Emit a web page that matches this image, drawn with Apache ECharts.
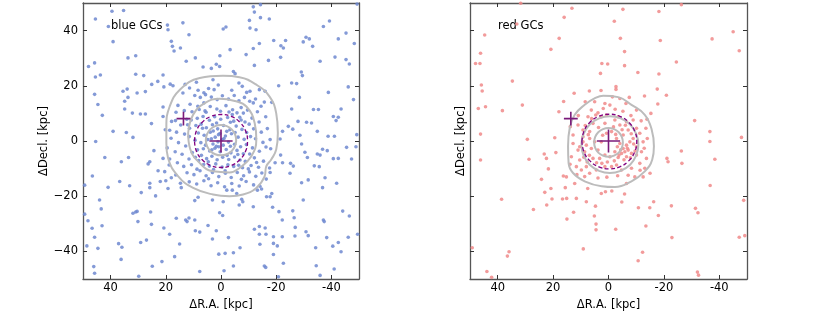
<!DOCTYPE html>
<html><head><meta charset="utf-8">
<script src="https://cdn.jsdelivr.net/npm/echarts/dist/echarts.min.js"></script>
<style>html,body{margin:0;padding:0;background:#fff}#c{width:830px;height:316px}</style>
</head><body><div id="c"></div>
<script>
const tickValues = [-40, -20, 0, 20, 40];
const panelLabels = ['blue GCs', 'red GCs'];
const xAxisName = 'ΔR.A. [kpc]';
const yAxisName = 'ΔDecl. [kpc]';

const blueOuter = [[39.5,47],[35.3,47.3],[45.5,44.2],[40.8,41.5],[39.1,36],[48,27],[45.8,28.3],[33.7,30.1],[30.9,30.9],[45.5,23.2],[43.7,23.9],[30.9,24.2],[28,23.7],[35.5,18],[34,18.8],[45.8,16.9],[27.4,17.9],[30.4,17.4],[25.1,20.5],[22.9,21.6],[21,23.9],[20.7,19.6],[19.4,42],[19.2,40.3],[18,36.1],[17.6,34.3],[17,32.6],[14.7,33.7],[13.8,42.8],[11.6,38.5],[12.6,28.9],[9.3,30.1],[6.5,26.8],[3.5,26.3],[1.7,27.8],[0.5,27],[44.6,13.2],[43,9.3],[34.9,14.4],[33.7,15.8],[34.9,11.6],[32.1,10.1],[29.2,9.8],[27.4,9.8],[25.2,6.3],[39.1,3.5],[34.3,3.1],[31.9,1.3],[21,12.3],[21,8.9],[20.2,4.1],[18.1,1],[45.4,-0.2],
[-11.7,48.6],[-14.3,49.4],[-12.1,46.7],[-10.3,43.7],[-14.3,44.7],[-17.5,44.2],[-10.5,40.9],[-12.7,40.3],[-1.8,41.3],[-0.8,40.6],[-39.3,43.5],[-37.1,41.5],[-45.3,39.1],[-42.5,37],[-48.3,35.3],[-49.3,49.6],[-30.8,37.6],[-29.8,35.9],[-32,37],[-33.2,34.3],[-19.1,36.4],[-23.4,36.4],[-21.7,34.5],[-22.6,33.7],[-13.9,35.3],[-11.7,33.5],[-3.3,33.1],[0.4,30.9],[-9.1,31.3],[-21.6,30.3],[-17.2,29.2],[-35.9,28.9],[-41.3,30.4],[-45.3,29.5],[-46.5,27.9],[-12.1,27.4],[-4.5,25.2],[-5.1,24.4],[-29.1,25],[-29.5,23.7],[-25.6,21],[-27.4,20.8],[-20.9,20],[-38.9,17.6],[-46.1,19.6],[-48,15],[-28.4,15.8],[-6.5,21],[-7.7,19.8],[-3.9,18.4],[-9.3,17.6],[-10.5,18],[-13.9,18.6],[-16,18],[-18.4,14],[-25.6,11.6],[-33.5,11.4],[-35.3,11.4],[-40.7,8.9],[-42.5,8.6],[-41.7,7.4],[-43.5,11.6],[-27.9,7.1],[-31,6.8],[-32.8,6.5],[-34.9,3.5],[-26,4.3],[-22.3,3.5],[-24.4,5.3],[-49.2,2.3],[-41.1,1.7],[-38.8,1.7],[-28.6,2.1],[-17.8,0.5],[-21.4,0.7],
[42.1,-6],[36.1,-7.5],[33.5,-6],[24.3,-3.5],[26.4,-8.3],[25.8,-7.5],[22.8,-10.8],[46.6,-12.7],[40.9,-16.8],[36.7,-14.7],[33.1,-16.2],[28.9,-18.7],[25.8,-15.3],[25.8,-16.9],[23.7,-19.9],[22,-14.7],[20,-14.4],[20.4,-11.1],[18,-13.3],[19.2,-17.2],[49.4,-16],[44,-21.4],[43.4,-24.6],[49.4,-26.5],[48.2,-28.9],[46.7,-31.6],[43.1,-30.7],[45.8,-34.9],[48.6,-38],[44.6,-38.9],[31.9,-26.2],[30.9,-25.7],[30.4,-25.5],[30.1,-29.2],[25.5,-25.7],[25.2,-30.2],[20.7,-31.5],[18.6,-33.8],[16.2,-28],[12.8,-28.6],[11.6,-27.9],[12.3,-29.2],[9.5,-28.6],[9.3,-32.5],[7.7,-33],[4.7,-30.6],[1.7,-32.5],[8.3,-20.4],[9.5,-21.6],[3.1,-21.4],[0.5,-26],[3.1,-35.5],[29.1,-36.8],[27,-35.9],[37.1,-37.2],[35.9,-38.5],[36.2,-42.9],[24.9,-45.4],[21.4,-43.7],[16.8,-41.9],[15,-37.3],[46.1,-45.5],[45.8,-47.9],[29.8,-49],[7.7,-47.3],[0.8,-41],
[-29.2,-1.1],[-36.8,-3],[-38.5,-3.5],[-34.9,-4.7],[-35.9,-5.1],[-45.5,-2.3],[-48.9,-2.1],[-30.4,-4.1],[-31.3,-6],[-40.7,-6.4],[-42.5,-6.3],[-47.3,-6.5],[-21.6,-5.1],[-19.6,-7.9],[-22.3,-7.9],[-25.2,-8.1],[-26.2,-9.1],[-33.8,-9],[-35.6,-9.3],[-31.6,-14.1],[-29.2,-15.1],[-25,-11.7],[-36.8,-16.9],[-37.7,-13.3],[-41.9,-15.3],[-29.8,-21.4],[-18.7,-24],[-21,-25.6],[-26,-25.3],[-26.5,-27.8],[-22.2,-28.6],[-0.6,-27],[-12.1,-32],[-13.9,-31],[-16,-31.5],[-13.9,-33.8],[-16.3,-33.8],[-19,-34.7],[-22.2,-34.7],[-26.9,-31.3],[-26.8,-34.4],[-30.8,-32.9],[-31.6,-34.3],[-37.1,-28.6],[-37.4,-29.2],[-38.3,-35],[-44.1,-25.4],[-46.5,-27.2],[-46.1,-34.9],[-49.5,-33.8],[-34.3,-38.7],[-40.5,-38.1],[-42.5,-36.8],[-43.5,-40.1],[-2.7,-35],[-6.9,-38.7],[-14.1,-37.4],[-19,-37.1],[-20.4,-38],[-19,-41.1],[-4.5,-40.5],[-1.5,-40.7],[-22.6,-44.3],[-15.7,-45.3],[-16.2,-45.8],[-4.5,-45.3],[-1.1,-47],[-34.5,-45.2],[-41,-46.4],[-35.9,-48.7],[-20.8,-49.2]];

const blueInner = [[9.5,16.5],[7.5,15.8],[5.6,16.8],[3.5,15.9],[1.4,15],[-0.5,16.4],[-2.7,15.2],[-4.8,16.5],[-6.5,14.6],[-8.5,15.8],[-10.4,14.4],[-12.5,15.2],[-14.5,12.6],[-15.7,14.1],[-11.7,13.8],[11.2,13.3],[8.4,12.6],[6.2,13.8],[3.9,12.5],[1.5,11.6],[-1.8,12.8],[-4.2,11.3],[-7.3,12.1],[-9.6,11.2],[-13.2,10.6],[13.3,11],[10.5,10.6],[5.4,10.4],[0.2,10.8],[-5.8,10.2],[15.6,12.9],[16.3,10.4],
[16.5,7.4],[14.6,5.8],[12.4,7.9],[16.1,3.2],[13.2,2.5],[11.4,4.6],[15.4,-0.6],[12.8,-1.8],[16.6,-3.9],[14.1,-4.8],[11.6,-6.5],[15.8,-7.9],[13.5,-9.2],[10.7,-8.6],
[-11.2,8.3],[-13.8,6.9],[-16.2,8.8],[-11.8,4.4],[-14.6,3.2],[-16.8,4.5],[-12.5,0.8],[-15.2,-0.5],[-11.4,-2.5],[-13.9,-3.7],[-16.3,-2.2],[-12.1,-6.1],[-15.4,-7.3],[-10.9,-8.9],[-13.6,-9.5],
[8.6,8.2],[6.5,8.9],[4.2,7.5],[2.3,8.8],[0.1,7.9],[-2.4,8.5],[-4.6,7.2],[-6.8,8.6],[-8.7,6.9],[9.1,5.6],[7.2,6.1],[5.3,4.8],[3.1,5.9],[1.2,4.4],[-0.9,5.6],[-3.2,4.1],[-5.5,5.4],[-7.6,4.2],[-9.3,3.1],[8.2,2.9],[6.1,2.1],[3.9,3.2],[2.1,1.4],[0.4,2.7],[-1.6,1.8],[-3.8,2.6],[-6.2,1.4],[-8.4,0.6],[9.4,0.3],[7.3,-0.6],[4.8,0.5],[2.9,-1.1],[1.1,-0.3],[-0.8,-1.5],[-2.7,-0.4],[-4.9,-1.2],[-7.1,-2.1],[-9.2,-1.3],[8.5,-3.2],[6.4,-2.8],[4.1,-3.6],[2.2,-2.6],[0.3,-3.9],[-1.9,-3.1],[-3.6,-4.3],[-5.8,-3.4],[-8.1,-4.6],[9.3,-5.9],[7.1,-5.2],[5.2,-6.4],[3.3,-5.5],[1.4,-6.8],[-0.6,-5.9],[-2.8,-6.7],[-4.9,-5.8],[-6.9,-6.9],[-8.8,-7.4],[6.3,-8.5],[4.2,-9.1],[1.9,-8.3],[-0.4,-9.4],[-2.5,-8.6],[-4.6,-9.2],[-6.4,-8.8],[0.9,2.3],[-1.1,0.9],[3.5,0.8],[-2.1,3.5],[1.7,-1.9],[-3.4,-1.9],[5.6,-1.5],[-5.1,3.1],
[12.3,-11.5],[9.8,-12.2],[7.6,-10.8],[5.4,-12.6],[3.1,-11.4],[0.8,-12.9],[-1.6,-11.7],[-3.7,-13.2],[-5.9,-11.4],[-8.2,-12.6],[-10.3,-11.2],[-12.6,-12.8],[-14.8,-11.6],[-16.4,-13.8],[14.7,-15.3],[14.4,-16.9],[11.5,-14.8],[8.8,-15.6],[6.2,-14.4],[3.6,-16.2],[1.2,-15.1],[-1.3,-16.6],[-3.9,-15.4],[-6.6,-16.3],[-9.1,-14.7],[-11.8,-15.9],[-14.1,-16.4],[16.4,-12.3],[-7.4,-13.9],[4.5,-13.7],
[17.4,20],[18.4,20.6],[17.9,7.1],[18.6,3.9],[13.8,17.4],[11.4,19.2],[8.3,18.4],[6.2,17.5],[4.5,19],[2.5,18.6],[1,20.3],[8.9,21.3],[13,20.5],[2.9,22.2],[21,-6.3],[18.6,-6.5],[18.8,-8.7],[19.5,-2.5],[-18,-2.8],[-17.6,-9.8],[-17.8,-11.4],[-18.4,-19],[-17.8,-20.2],[-7.5,-21.1],[-6.6,-23.2],[-7.9,-22],[-14.7,-17.4],[-13.2,-17.8],[-16.5,-20.2],[-11.7,-23.8],[-4.1,-17.8],[-2.1,-17.8],[-5.7,-19],[-0.8,-22],
[7.9,11.4],[-2.9,10.5],[-8.1,10.1],[10.8,7.6],[-10.2,6.1],[-10.7,1.6],[11.5,1.6],[10.4,-4.2],[-10.4,-4.7],[-9.9,-10.1],[8.7,-10.2],[-1.5,-10.8],[2.7,-10.3],[5.8,10.9],[-3.4,6.8],[2.8,3.6],[-0.4,0.5],[0.8,-2.1],[3.3,-3.2],[-2.2,-5.2],[4.6,-7.5],[-6.1,-4.9],[6.7,4.6],[-7.3,7.6],[1.6,6.5],[-4.1,9.6],[8.1,-7.1],[-7.8,-9.7],[-12.9,-7.8],[12.1,5.9]];

const redOuter = [[31.7,49.9],[13.2,48.1],[16,44.8],[-5.2,47.7],[-18.2,46.9],[-2.1,43.4],[-26.3,49.4],[44.7,38.4],[17.8,37.2],[-4.3,37.2],[-18.7,36.4],[-37.4,37],[-45,39.6],[-47.2,32.7],[20.8,33.2],[-5.8,32.4],[46.2,31.8],[48,28.1],[46.4,28.1],[2.4,28.1],[0.3,27.9],[-5.8,27.3],[-24.5,28.6],[2.9,24.5],[-10.6,24.8],[-18.2,24.3],[34.7,21.7],[45.9,20.3],[45.6,18.1],[-2.7,19.7],[-2.7,18.7],[-17.6,18.8],[12.4,17.3],[6.9,18.1],[2.7,18.3],[-13,16.3],[-20.9,16.6],[16.2,14.3],[47,11.8],[44.4,12.4],[38.3,11],[31.1,13],[-17.8,13.4],[-31.1,7.4],[-36.6,3.4],[-48,1.3],[46.2,2.5],[29.3,0.6],[19.4,1.2],[33.1,42.4],[17.9,10.6],
[46.2,-6.9],[28.7,-6.6],[23.2,-4.7],[22.4,-6.3],[19,-4.2],[21.7,-10.1],[24.2,-13.9],[23,-18.6],[20.8,-17.2],[38.6,-21.1],[27.1,-24.8],[22.3,-23.2],[20.4,-21],[16.6,-21],[15.1,-20.8],[15.6,-16.9],[16.3,-12.7],[12.6,-25.8],[15,-28.3],[7.5,-17.2],[4.7,-23.6],[5.1,-27.2],[4.5,-30.1],[4.5,-32.2],[1.1,-18.4],[-1.2,-18.1],[-2.6,-32],[-5.8,-19.2],[-4.8,-22.1],[-10.8,-24.2],[-14.9,-24.2],[-16.3,-22],[-18,-27],[-13.5,-30.8],[-22.7,-23.5],[-22.9,-35],[-31.4,-24.4],[-32.3,-26],[-36.7,-16.1],[-38.4,-6.6],[-26.5,-8.1],[-21.1,-6.3],[-21.5,-7.5],[-26.3,-3.6],[-36.6,-0.2],[-48.8,-21.5],[-47.2,-34.9],[-49.2,-34.3],[49.2,-38.7],[35.9,-40.1],[36.5,-41.7],[9.1,-39.1],[-12.3,-40.3],[-10.7,-43.4],[43.9,-47.3],[42.2,-49.4],[-32.1,-47.5],[-32.5,-48.6],[2.6,-19],[11.6,-20.8],[8,-22]];

const redInner = [[-1.4,16],[-4.1,15.4],[-7.5,15.8],[8.4,14.2],[5,14.2],[1.3,13.6],[-0.5,13],[-6.3,13.6],[-10.1,11.2],[-15.3,10],[6.2,11.2],[3.8,10.2],[7.4,8.8],[2.6,8.8],[0.7,9.4],[-2.3,7.6],[-3.5,8.8],[-6.5,7],[-8.9,7.6],[11,5.8],[9.2,4],[6.8,3.4],[5.6,6.4],[1.3,6.4],[-4.1,5.8],[-7.1,4],[-10.1,4.6],[-11.3,2.8],[-13.5,4.6],[-14,0.9],[9.2,1.5],[6.8,0.9],[8,-1.5],[10.4,-2.1],[8.6,-3.9],[6.2,-2.7],[5,-0.3],[-2.9,0.9],[-4.1,-0.9],[-5.3,-2.7],[-6.5,-1.5],[-7.7,-0.3],[-8.9,0.9],[-10.1,-2.1],[-8.3,-4.5],[-6.5,-5.7],[-2.3,-3.9],[-0.5,-5.7],[1.3,-5.1],[3.2,-6.3],[5.6,-6.3],[10.4,-6.9],[11.6,-9.3],[9.8,-10.5],[8,-9.3],[6.8,-11.7],[4.4,-10.5],[1.3,-9.3],[-1.1,-9.3],[-2.9,-8.7],[-4.7,-10.5],[-8.3,-9.9],[-11.3,-8.1],[-13.7,-6.3],[-13.1,-9.9],[-12.5,-13],[-15,-11.7],[-9.5,-13],[-6.5,-15.4],[12.2,-15.4],[15.2,-13],[0.7,2.8],[-1.1,3.4],[-5.3,2.2],[2.6,-0.3],[-4.7,-4.5],[-3.5,-6],[-7.1,-3.3],[3.8,-3.3],[12.8,-0.9],[13.4,-5.7],[12.8,2.2],[11,-3.3],[-11.9,-3.9],[-12.5,-0.3],[-10.1,-5.1],
[-3.2,-2.1],[-4.4,-3.2],[-5.9,-3.9],[-6.8,-2.6],[-3.8,-5.1],[-5.6,-6.8],[-7.9,-6.1],[-2.1,-7.2],[0.4,-7.6],[2.4,-8.1],[4.3,-7.9],[6.9,-5.2],[7.7,-7.6],[8.9,-5.9],[9.2,-0.3],[7.3,2.3],[8.4,5.6],[3.6,4.9],[2.1,2.1],[-1.8,5.1],[-2.6,2.4],[-4.9,4.1],[-6.1,5.7],[-8.2,2.6],[-9.1,-1.1],[-9.6,-3.6],[-8.1,9.2],[-5.2,10.8],[-2.4,11.5],[1.9,11.8],[4.6,9.4],[6.1,8.1],[-11.8,7.3],[-12.9,-2.6],[-11.4,-10.6],[-7.1,-12.4],[-3.3,-12.6],[0.6,-13.1],[3.8,-13.4],[8.6,-12.9],[11.4,-12.2],[13.9,-8.4],[13.8,5.2],[10.9,9.2],[-13.9,7.9]];

const blueContour1 = [[19.8,-0.7],[19.8,5.3],[18.6,12.5],[14.9,18.6],[7.7,22.8],[-0.7,23.6],[-6.7,23.1],[-12.8,20.4],[-17.6,16.1],[-20,10.1],[-20.6,2.9],[-20,-3.1],[-18.2,-6.7],[-16.4,-9.2],[-15.8,-12.8],[-12.8,-17],[-8,-19.4],[-3.1,-20],[2.9,-19.4],[10.1,-17],[15.5,-12.8],[19.2,-6.1],[19.8,-0.7]];
const blueContour2 = [[11.9,2.9],[10.1,9.5],[5.9,13.7],[0.5,15.3],[-5,14.5],[-9.2,12.5],[-12.2,6.5],[-12.8,0.5],[-11,-5.5],[-6.7,-9.8],[-3.1,-11.4],[2.9,-11],[7.7,-8],[11.1,-3.1],[11.9,2.9]];
const blueContour3 = [[5.5,0.3],[5.1,2.4],[3.9,4.2],[2.1,5.4],[0,5.8],[-2.1,5.4],[-3.9,4.2],[-5.1,2.4],[-5.5,0.3],[-5.1,-1.8],[-3.9,-3.6],[-2.1,-4.8],[0,-5.2],[2.1,-4.8],[3.9,-3.6],[5.1,-1.8],[5.5,0.3]];
const blueCore = [[9.6,0],[8.9,3.7],[6.8,6.8],[3.7,8.9],[0,9.6],[-3.7,8.9],[-6.8,6.8],[-8.9,3.7],[-9.6,0],[-8.9,-3.7],[-6.8,-6.8],[-3.7,-8.9],[0,-9.6],[3.7,-8.9],[6.8,-6.8],[8.9,-3.7],[9.6,0]];

const redContour1 = [[14.6,-1.9],[14,4.7],[12.2,9.5],[8.6,13.1],[4.9,15.5],[1.9,16.4],[-3.5,15.9],[-8.3,13.1],[-13.1,9.5],[-15.6,4.1],[-16.4,-1.9],[-15.8,-6.7],[-13.1,-11],[-8.3,-14.6],[-2.3,-16.7],[2.5,-16.4],[8.6,-14.6],[12.8,-11.6],[14.4,-8],[14.6,-1.9]];
const redContour2 = [[9.8,-1.3],[9.0,2.6],[6.8,6.0],[3.4,8.2],[-0.5,9.0],[-4.4,8.2],[-7.8,6.0],[-10.0,2.6],[-10.8,-1.3],[-10.0,-5.2],[-7.8,-8.6],[-4.4,-10.8],[-0.5,-11.6],[3.4,-10.8],[6.8,-8.6],[9.0,-5.2],[9.8,-1.3]];
const redContour3 = [[5.2,-0.5],[4.8,1.5],[3.7,3.2],[2.0,4.3],[0,4.7],[-2.0,4.3],[-3.7,3.2],[-4.8,1.5],[-5.2,-0.5],[-4.8,-2.5],[-3.7,-4.2],[-2.0,-5.3],[0,-5.7],[2.0,-5.3],[3.7,-4.2],[4.8,-2.5],[5.2,-0.5]];
const redCore = [[9.6,-0.2],[8.85,3.6],[6.7,6.8],[3.5,8.95],[-0.3,9.7],[-4.1,8.95],[-7.3,6.8],[-9.45,3.6],[-10.2,-0.2],[-9.45,-4.0],[-7.3,-7.2],[-4.1,-9.35],[-0.3,-10.1],[3.5,-9.35],[6.7,-7.2],[8.85,-4.0],[9.6,-0.2]];

const crossCenters = [[0, 0], [13.6, 8.1]];
const crossArms = [4.2, 2.5];

const FONT = 'DejaVu Sans';
const frame = {color: '#555', width: 1.3};
function xAx(g, pos, main) {
  return {gridIndex: g, type: 'value', min: -50, max: 50, inverse: true, position: pos,
    axisLine: {show: true, onZero: false, lineStyle: frame},
    axisTick: {show: true, inside: true, length: 4, customValues: tickValues, lineStyle: {color: '#333', width: 1}},
    axisLabel: {show: main, customValues: tickValues, margin: 3, fontSize: 11.5, fontFamily: FONT, color: '#000', formatter: v => String(v)},
    splitLine: {show: false},
    name: main ? xAxisName : '', nameLocation: 'middle', nameGap: 17,
    nameTextStyle: {fontSize: 11.5, fontFamily: FONT, color: '#000'}};
}
function yAx(g, pos, labels, named, gap) {
  return {gridIndex: g, type: 'value', min: -50, max: 50, position: pos,
    axisLine: {show: true, onZero: false, lineStyle: frame},
    axisTick: {show: true, inside: true, length: 4, customValues: tickValues, lineStyle: {color: '#333', width: 1}},
    axisLabel: {show: labels, customValues: tickValues, margin: 5, fontSize: 11.5, fontFamily: FONT, color: '#000',
      formatter: v => v < 0 ? '\u2212' + (-v) : String(v)},
    splitLine: {show: false},
    name: named ? yAxisName : '', nameLocation: 'middle', nameGap: gap, nameRotate: 90,
    nameTextStyle: {fontSize: 11.5, fontFamily: FONT, color: '#000'}};
}
function lineS(ax, data, color, width, type, z) {
  return {type: 'line', xAxisIndex: ax, yAxisIndex: ax, data: data, smooth: 0.45, showSymbol: false, symbol: 'none',
    lineStyle: {color: color, width: width, type: type}, z: z, silent: true, animation: false};
}
function crossSeries(ax) {
  const out = [];
  crossCenters.forEach((c, i) => {
    const a = crossArms[i];
    out.push({type: 'line', xAxisIndex: ax, yAxisIndex: ax, data: [[c[0] + a, c[1]], [c[0] - a, c[1]]], showSymbol: false, symbol: 'none', lineStyle: {color: '#7a1a7a', width: 1.6}, z: 6, silent: true, animation: false});
    out.push({type: 'line', xAxisIndex: ax, yAxisIndex: ax, data: [[c[0], c[1] + a], [c[0], c[1] - a]], showSymbol: false, symbol: 'none', lineStyle: {color: '#7a1a7a', width: 1.6}, z: 6, silent: true, animation: false});
  });
  return out;
}
const chart = echarts.init(document.getElementById('c'), null, {renderer: 'canvas'});
const option = {
  animation: false,
  grid: [{left: 83, top: 3, width: 276, height: 276}, {left: 470, top: 3, width: 277, height: 276}],
  xAxis: [xAx(0, 'bottom', true), xAx(0, 'top', false), xAx(1, 'bottom', true), xAx(1, 'top', false)],
  yAxis: [yAx(0, 'left', true, true, 30), yAx(0, 'right', false, false, 0), yAx(1, 'left', false, true, 3), yAx(1, 'right', false, false, 0)],
  graphic: [
    {type: 'text', left: 111, top: 20, style: {text: panelLabels[0], font: '11.5px "DejaVu Sans"', fill: '#000'}},
    {type: 'text', left: 498, top: 20, style: {text: panelLabels[1], font: '11.5px "DejaVu Sans"', fill: '#000'}}
  ],
  series: [
    {type: 'scatter', xAxisIndex: 0, yAxisIndex: 0, data: blueOuter.concat(blueInner), symbolSize: 3.6, itemStyle: {color: '#6f88d0', opacity: 0.85}, z: 2, silent: true},
    lineS(0, blueContour1, '#bcbcbc', 2, 'solid', 3),
    lineS(0, blueContour2, '#bcbcbc', 2, 'solid', 3),
    lineS(0, blueContour3, '#bcbcbc', 2, 'solid', 3),
    lineS(0, blueCore, '#800080', 1.3, [4, 2.5], 5),
    ...crossSeries(0),
    {type: 'scatter', xAxisIndex: 2, yAxisIndex: 2, data: redOuter.concat(redInner), symbolSize: 3.6, itemStyle: {color: '#f08a8a', opacity: 0.85}, z: 2, silent: true},
    lineS(2, redContour1, '#bcbcbc', 2, 'solid', 3),
    lineS(2, redContour2, '#bcbcbc', 2, 'solid', 3),
    lineS(2, redContour3, '#bcbcbc', 2, 'solid', 3),
    lineS(2, redCore, '#800080', 1.3, [4, 2.5], 5),
    ...crossSeries(2)
  ]
};
chart.setOption(option);
</script></body></html>
